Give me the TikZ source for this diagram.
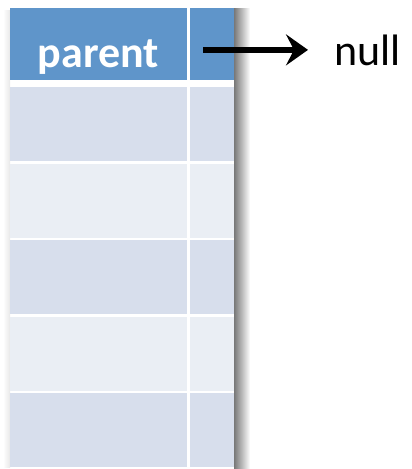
\documentclass[tikz,border=0pt]{standalone}
\usepackage{fontspec}
\setmainfont{Carlito}
\usetikzlibrary{arrows.meta, positioning, calc}
\definecolor{hdrblue}{RGB}{95, 149, 202}
\definecolor{banddark}{RGB}{215, 222, 236}
\definecolor{bandlight}{RGB}{234, 238, 244}
\definecolor{shadowgray}{RGB}{120, 120, 120}

\tikzset{
  cell/.style={rectangle, inner sep=0pt, minimum height=74pt},
  wide/.style={cell, minimum width=177pt},
  narrow/.style={cell, minimum width=44pt},
}

\begin{document}
\begin{tikzpicture}[x=1pt, y=-1pt]
  \useasboundingbox (0, 0) rectangle (412, 469);

  % Shadow of the table
  \shade[left color=shadowgray, right color=white] (234, 8) rectangle (250, 469);
  \shade[left color=white, right color=gray!18] (3, 10) rectangle (10, 467);

  % Header row
  \node[wide, fill=hdrblue, minimum height=72pt, text height=46pt, text depth=0pt, text=white, font=\fontsize{44}{48}\selectfont\bfseries] (hdr) at (98.5, 44) {parent};
  \node[narrow, fill=hdrblue, minimum height=72pt] (hdrptr) at (212, 44) {};

  % Rows
  \node[wide, fill=banddark] (r1) at (98.5, 124) {};
  \node[narrow, fill=banddark] (r1ptr) at (212, 124) {};
  \node[wide, fill=bandlight] (r2) at (98.5, 200.5) {};
  \node[narrow, fill=bandlight] (r2ptr) at (212, 200.5) {};
  \node[wide, fill=banddark] (r3) at (98.5, 277) {};
  \node[narrow, fill=banddark] (r3ptr) at (212, 277) {};
  \node[wide, fill=bandlight] (r4) at (98.5, 353.5) {};
  \node[narrow, fill=bandlight] (r4ptr) at (212, 353.5) {};
  \node[wide, fill=banddark] (r5) at (98.5, 430) {};
  \node[narrow, fill=banddark] (r5ptr) at (212, 430) {};

  % Pointer to null
  \node[inner sep=0pt, anchor=base west, font=\fontsize{44}{48}\selectfont] (null) at (334, 65) {null};
  \draw[line width=5.5pt, -{Stealth[length=22pt, width=31pt, inset=8pt]}, shorten >=26pt]
    ([xshift=-9pt]hdrptr.center |- null.center) -- (null.west |- null.center);
\end{tikzpicture}
\end{document}
